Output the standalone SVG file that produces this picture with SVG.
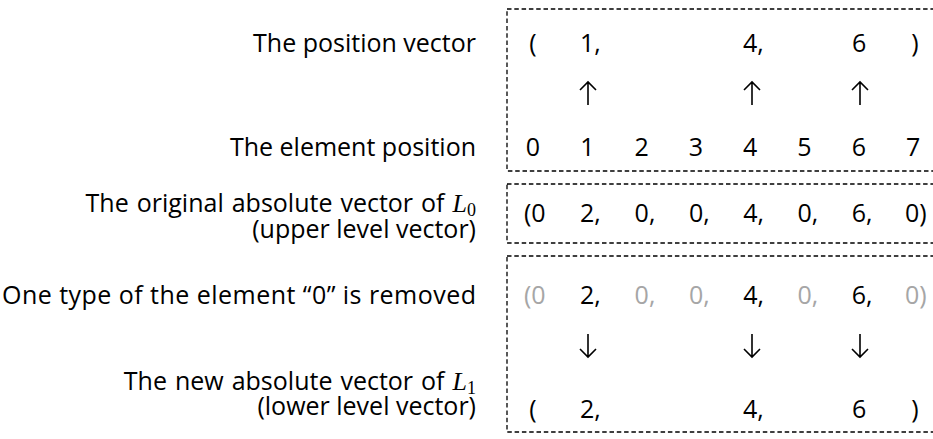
<svg xmlns="http://www.w3.org/2000/svg" width="933" height="439" viewBox="0 0 933 439">
<style>
text{font-family:"Open Sans","Liberation Sans",sans-serif;font-size:25px;fill:#000}
.lbl{text-anchor:end}
.mid{text-anchor:middle}
.g{fill:#a6a6a6}
.box{fill:none;stroke:#000;stroke-width:1.3;stroke-dasharray:4.5 2.8}
.arr{fill:none;stroke:#000;stroke-width:1.6}
.math{font-family:"Liberation Serif","DejaVu Serif",serif;font-style:italic;font-size:26px}
.sub{font-family:"Liberation Serif","DejaVu Serif",serif;font-style:normal;font-size:18px}
</style>
<rect width="933" height="439" fill="#fff"/>
<g id="labels">
<text class="lbl" x="476" y="52">The position vector</text>
<text class="lbl" x="476" y="156">The element position</text>
<text class="lbl" x="476" y="212" word-spacing="1.5">The original absolute vector of <tspan class="math">L</tspan><tspan class="sub" dy="4">0</tspan></text>
<text class="lbl" x="476" y="238">(upper level vector)</text>
<text class="lbl" x="476" y="304" textLength="474" lengthAdjust="spacing">One type of the element “0” is removed</text>
<text class="lbl" x="476" y="390" word-spacing="1.5">The new absolute vector of <tspan class="math">L</tspan><tspan class="sub" dy="4">1</tspan></text>
<text class="lbl" x="476" y="415">(lower level vector)</text>
</g>
<g id="box-position">
<rect class="box" x="507" y="9" width="440" height="162"/>
<text class="mid" x="533" y="52">(</text>
<text x="580" y="52">1,</text>
<text x="743" y="52">4,</text>
<text x="852" y="52">6</text>
<text class="mid" x="915" y="52">)</text>
<text class="mid" x="533" y="156">0</text>
<text class="mid" x="587.3" y="156">1</text>
<text class="mid" x="641.6" y="156">2</text>
<text class="mid" x="695.9" y="156">3</text>
<text class="mid" x="750.2" y="156">4</text>
<text class="mid" x="804.5" y="156">5</text>
<text class="mid" x="858.8" y="156">6</text>
<text class="mid" x="913.1" y="156">7</text>
</g>
<g id="box-original">
<rect class="box" x="507" y="184" width="440" height="59"/>
<text x="524" y="222">(0</text>
<text x="580" y="222">2,</text>
<text x="634.6" y="222">0,</text>
<text x="688.9" y="222">0,</text>
<text x="743.2" y="222">4,</text>
<text x="797.5" y="222">0,</text>
<text x="851.8" y="222">6,</text>
<text x="905" y="222">0)</text>
</g>
<g id="box-new">
<rect class="box" x="507" y="256" width="440" height="176"/>
<text class="g" x="524" y="304">(0</text>
<text x="580" y="304">2,</text>
<text class="g" x="634.6" y="304">0,</text>
<text class="g" x="688.9" y="304">0,</text>
<text x="743.2" y="304">4,</text>
<text class="g" x="797.5" y="304">0,</text>
<text x="851.8" y="304">6,</text>
<text class="g" x="905" y="304">0)</text>
<text class="mid" x="533" y="418">(</text>
<text x="580" y="418">2,</text>
<text x="743" y="418">4,</text>
<text x="852" y="418">6</text>
<text class="mid" x="915" y="418">)</text>
</g>
<g id="connectors">
<path class="arr" d="M588 105V82M580 90L588 82L596 90"/>
<path class="arr" d="M752 105V82M744 90L752 82L760 90"/>
<path class="arr" d="M860 105V82M852 90L860 82L868 90"/>
<path class="arr" d="M588 334V357M580 349L588 357L596 349"/>
<path class="arr" d="M752 334V357M744 349L752 357L760 349"/>
<path class="arr" d="M860 334V357M852 349L860 357L868 349"/>
</g>
</svg>
